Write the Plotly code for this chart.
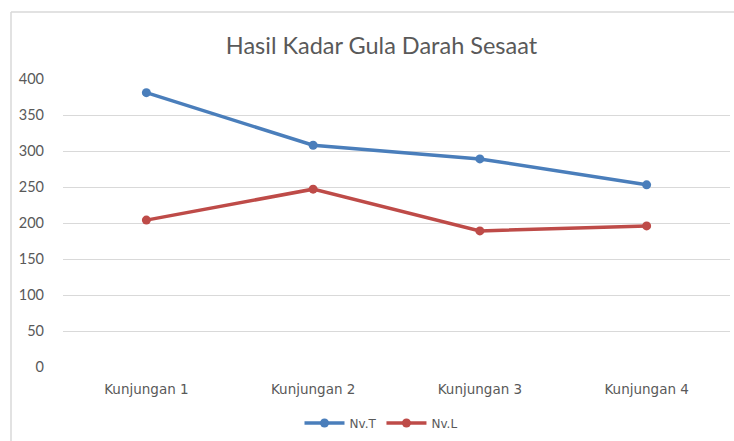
import plotly.graph_objects as go

categories = ["Kunjungan 1", "Kunjungan 2", "Kunjungan 3", "Kunjungan 4"]
nv_t = [381, 308, 289, 253]
nv_l = [204, 247, 189, 196]
y_ticks = [0, 50, 100, 150, 200, 250, 300, 350, 400]

fig = go.Figure()
fig.add_trace(go.Scatter(x=categories, y=nv_t, name="Nv.T", mode="lines+markers",
                         line=dict(color="#4A7EBB", width=3.5),
                         marker=dict(size=9, color="#4A7EBB")))
fig.add_trace(go.Scatter(x=categories, y=nv_l, name="Nv.L", mode="lines+markers",
                         line=dict(color="#BE4B48", width=3.5),
                         marker=dict(size=9, color="#BE4B48")))

L, R, T, B = 63, 4, 79, 74
W, H = 734, 441
pw, ph = W - L - R, H - T - B
YB = T + ph                          # absolute plot bottom

def px(x):
    return (x - L) / pw

def py(y):
    return (YB - y) / ph

fig.update_layout(
    width=W, height=H,
    margin=dict(l=L, r=R, t=T, b=B, autoexpand=False),
    paper_bgcolor="white", plot_bgcolor="white",
    title=dict(text="Hasil Kadar Gula Darah Sesaat", x=px(381.5), xref="paper",
               xanchor="center", y=1 - 46 / H, yanchor="middle",
               font=dict(family="Lato", size=23.5, color="#595959")),
    xaxis=dict(showgrid=False, showline=False, ticks="", zeroline=False,
               range=[-0.5, 3.5], automargin=False,
               tickfont=dict(family="DejaVu Sans", size=13.5, color="#595959"),
               ticklabelstandoff=12),
    yaxis=dict(range=[0, 400], tickvals=y_ticks, showgrid=True, gridcolor="#D9D9D9",
               gridwidth=1, zeroline=False, showline=False, ticks="", automargin=False,
               tickfont=dict(family="Lato", size=14.5, color="#595959"),
               ticklabelstandoff=18),
    legend=dict(orientation="h", x=px(381), xanchor="center", y=py(423), yanchor="middle",
                font=dict(family="DejaVu Sans", size=12, color="#595959"),
                itemwidth=40, traceorder="normal"),
    shapes=[
        dict(type="line", xref="paper", yref="paper", x0=px(11), x1=px(11), y0=py(12), y1=py(460),
             line=dict(color="#D9D9D9", width=1.5)),
        dict(type="line", xref="paper", yref="paper", x0=px(11), x1=px(760), y0=py(12), y1=py(12),
             line=dict(color="#D9D9D9", width=1.5)),
    ],
)

fig.write_html("out.html", config={"displayModeBar": False},
               post_script="document.body.style.margin='0';document.body.style.overflow='hidden';")
